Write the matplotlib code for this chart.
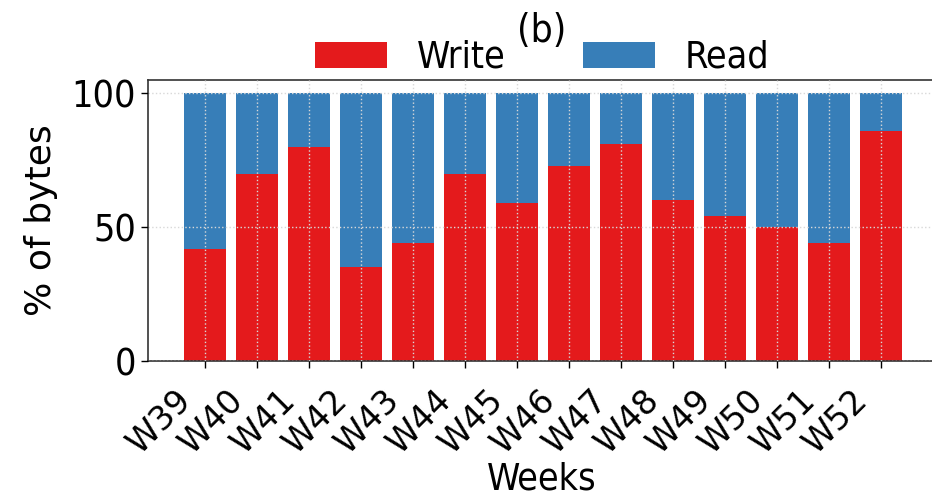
import matplotlib
matplotlib.use("Agg")
import matplotlib.pyplot as plt
import matplotlib.transforms as mtransforms
import numpy as np

weeks = ["W39", "W40", "W41", "W42", "W43", "W44", "W45",
         "W46", "W47", "W48", "W49", "W50", "W51", "W52"]
write_pct = [42, 70, 80, 35, 44, 70, 59, 73, 81, 60, 54, 50, 44, 86]
read_pct = [100 - w for w in write_pct]

WRITE_COLOR = "#e41a1c"
READ_COLOR = "#377eb8"

plt.rcParams["font.family"] = ["DejaVu Sans"]
plt.rcParams["font.stretch"] = "condensed"
FS = 27

fig = plt.figure(figsize=(9.32, 5.0), dpi=100)
ax = fig.add_axes([148 / 932, 1 - 361 / 500, (938 - 148) / 932, (361 - 80) / 500])

x = np.arange(len(weeks))
ax.bar(x, write_pct, width=0.8, color=WRITE_COLOR, label="Write", zorder=2)
ax.bar(x, read_pct, width=0.8, bottom=write_pct, color=READ_COLOR,
       label="Read", zorder=2)

ax.set_xlim(-1.1, 14.1)
ax.set_ylim(0, 105)
ax.set_yticks([0, 50, 100])
ax.set_xticks(x)
ax.set_xticklabels(weeks, rotation=45, ha="right",
                   fontsize=24, fontstretch="normal")
ax.tick_params(axis="both", length=5, width=1)
ax.tick_params(axis="y", labelsize=FS)
ax.tick_params(axis="x", pad=11)
shift = mtransforms.ScaledTranslation(-7 / 100, 0, fig.dpi_scale_trans)
for lbl in ax.get_xticklabels():
    lbl.set_transform(lbl.get_transform() + shift)

ax.grid(True, linestyle=":", color="#d8d8d8", linewidth=1, zorder=3)
ax.set_axisbelow(False)

ax.spines["right"].set_visible(False)
for s in ("left", "top", "bottom"):
    ax.spines[s].set_color("#333333")
    ax.spines[s].set_linewidth(1.2)

ax.set_ylabel("% of bytes", fontsize=26, fontstretch="normal", labelpad=10)
ax.set_xlabel("Weeks", fontsize=FS, va="baseline")
ax.xaxis.set_label_coords(542 / 932, 1 - 490 / 500, transform=fig.transFigure)

ax.text(542 / 932, 1 - 31 / 500, "(b)", transform=fig.transFigure,
        ha="center", va="center", fontsize=28)

ax.legend(loc="center", bbox_to_anchor=(542 / 932, 1 - 58 / 500),
          bbox_transform=fig.transFigure, ncol=2, frameon=False,
          fontsize=FS, handlelength=1.92, handleheight=0.67,
          handletextpad=0.8, columnspacing=2.05, borderaxespad=0)

fig.savefig("out.png", dpi=100)
